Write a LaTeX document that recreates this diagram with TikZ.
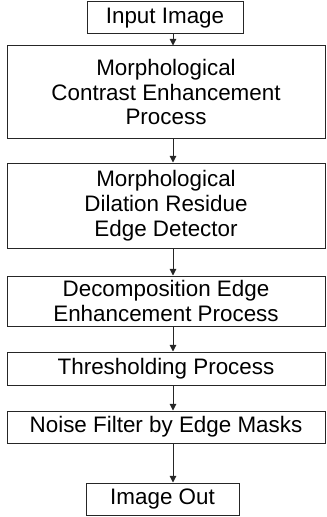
\documentclass[tikz,border=0pt]{standalone}
\usepackage{fontspec}
\setmainfont{Liberation Sans}
\usetikzlibrary{arrows.meta}
\tikzset{
  box/.style={draw=black!85, line width=0.75pt, inner sep=0pt, align=center,
    font=\fontsize{16.8}{18.6}\selectfont, text=black},
  wide/.style={box, minimum width=238.5pt},
  arr/.style={draw=black!85, line width=0.75pt, -{Triangle[length=5pt,width=5pt]}}
}
\begin{document}
\begin{tikzpicture}[x=0.75pt,y=-0.75pt]
\useasboundingbox (0,0) rectangle (326,517);
\node[box, minimum width=117pt, minimum height=24pt] (in) at (165,18) {Input Image};
\node[wide, minimum height=69pt] (b1) at (166,92) {Morphological\\Contrast Enhancement\\Process};
\node[wide, minimum height=63.75pt] (b2) at (166,205.5) {Morphological\\Dilation Residue\\Edge Detector};
\node[wide, minimum height=37.5pt] (b3) at (166,301) {Decomposition Edge\\Enhancement Process};
\node[wide, minimum height=24.75pt] (b4) at (166,368.5) {Thresholding Process};
\node[wide, minimum height=24pt] (b5) at (166,427) {Noise Filter by Edge Masks};
\node[box, minimum width=114.75pt, minimum height=24pt] (out) at (162.5,499) {Image Out};
\coordinate (ax) at (173,0);
\draw[arr] (in.south -| ax) -- (b1.north -| ax);
\draw[arr] (b1.south -| ax) -- (b2.north -| ax);
\draw[arr] (b2.south -| ax) -- (b3.north -| ax);
\draw[arr] (b3.south -| ax) -- (b4.north -| ax);
\draw[arr] (b4.south -| ax) -- (b5.north -| ax);
\draw[arr] (b5.south -| ax) -- (out.north -| ax);
\end{tikzpicture}
\end{document}
